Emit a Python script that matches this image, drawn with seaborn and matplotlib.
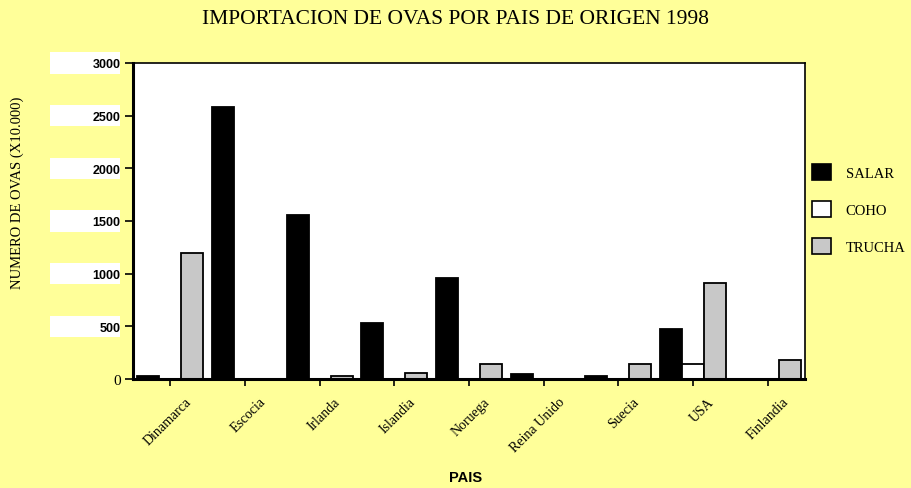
# Importacion de ovas por pais de origen 1998 - barras agrupadas

import pandas as pd
import matplotlib
matplotlib.use("Agg")
import matplotlib.pyplot as plt
import matplotlib.transforms as mtransforms
from matplotlib.patches import Patch, Rectangle
import seaborn as sns

# Datos (unidades x10.000)
paises = ["Dinamarca", "Escocia", "Irlanda", "Islandia", "Noruega",
          "Reina Unido", "Suecia", "USA", "Finlandia"]
salar = [30, 2580, 1560, 530, 960, 50, 30, 470, 0]
coho = [0, 0, 0, 0, 0, 0, 0, 140, 0]
trucha = [1200, 0, 25, 60, 140, 0, 140, 910, 180]

especies = ["SALAR", "COHO", "TRUCHA"]
colores = ["#000000", "#FFFFFF", "#C8C8C8"]
y_ticks = [0, 500, 1000, 1500, 2000, 2500, 3000]

df = pd.DataFrame({"pais": paises, "SALAR": salar, "COHO": coho, "TRUCHA": trucha})
df_long = df.melt(id_vars="pais", var_name="especie", value_name="ovas")

sns.set_style("white")
plt.rcParams["text.color"] = "black"
plt.rcParams["xtick.color"] = "black"
plt.rcParams["ytick.color"] = "black"
fondo = "#FFFF99"

fig = plt.figure(figsize=(9.12, 4.89), dpi=100)
fig.patch.set_facecolor(fondo)
ax = fig.add_axes([133 / 912, 1 - 380 / 489, 672 / 912, 316 / 489])
ax.set_facecolor("white")

sns.barplot(data=df_long, x="pais", y="ovas", hue="especie", hue_order=especies,
            palette=colores, width=0.88, edgecolor="black", linewidth=1.3,
            saturation=1, ax=ax, legend=False)

ax.set_xlim(-0.5, len(paises) - 0.5)
ax.set_ylim(0, 3000)
ax.set_yticks(y_ticks)
ax.set_xlabel("")
ax.set_ylabel("")

# Bordes
for lado in ["left", "bottom"]:
    ax.spines[lado].set_linewidth(2.2)
for lado in ["top", "right"]:
    ax.spines[lado].set_linewidth(1.2)
for s in ax.spines.values():
    s.set_color("black")

ax.tick_params(axis="y", direction="out", length=6, width=1.2, pad=3, left=True,
               colors="black")
ax.tick_params(axis="x", direction="out", length=5, width=1.2, pad=2, bottom=True,
               colors="black")

# Etiquetas del eje x (rotadas y algo desplazadas como en el original)
ax.set_xticks(range(len(paises)))
ax.set_xticklabels(paises, rotation=45, ha="right", rotation_mode="anchor",
                   fontfamily="Liberation Serif", fontsize=10, color="black")
desplaza = mtransforms.ScaledTranslation(14 / 100, -6 / 100, fig.dpi_scale_trans)
for lab in ax.get_xticklabels():
    lab.set_transform(lab.get_transform() + desplaza)

# Etiquetas del eje y: negrita con caja blanca (menos el 0)
ax.set_yticklabels([str(v) for v in y_ticks])
trans = mtransforms.blended_transform_factory(ax.transAxes, ax.transData)
for lab, v in zip(ax.get_yticklabels(), y_ticks):
    lab.set_color("black")
    if v == 0:
        lab.set_fontfamily("Liberation Serif")
        lab.set_fontsize(11)
    else:
        lab.set_fontfamily("Liberation Sans")
        lab.set_fontweight("bold")
        lab.set_fontsize(9)
        ax.add_patch(Rectangle((-83 / 672, v - 100), 70 / 672, 200,
                               transform=trans, facecolor="white",
                               edgecolor="none", clip_on=False, zorder=0.2))

# Titulo y rotulos
fig.text(0.5, 1 - 20 / 489, "IMPORTACION DE OVAS POR PAIS DE ORIGEN 1998",
         ha="center", va="center", fontfamily="Liberation Serif", fontsize=15.5)
fig.text(17 / 912, 1 - 193 / 489, "NUMERO DE OVAS (X10.000)", rotation=90,
         ha="center", va="center", fontfamily="Liberation Serif", fontsize=10.5)
fig.text(466 / 912, 1 - 478 / 489, "PAIS", ha="center", va="center",
         fontfamily="Liberation Sans", fontweight="bold", fontsize=10.5)

# Leyenda
handles = [Patch(facecolor=c, edgecolor="black", linewidth=1.2) for c in colores]
fig.legend(handles, especies, loc="center left", bbox_to_anchor=(799 / 912, 1 - 210 / 489),
           frameon=False, prop={"family": "Liberation Serif", "size": 10.5},
           handlelength=1.3, handleheight=1.3, labelspacing=1.45, handletextpad=1.0)

plt.savefig("out.png", dpi=100, facecolor=fondo)
